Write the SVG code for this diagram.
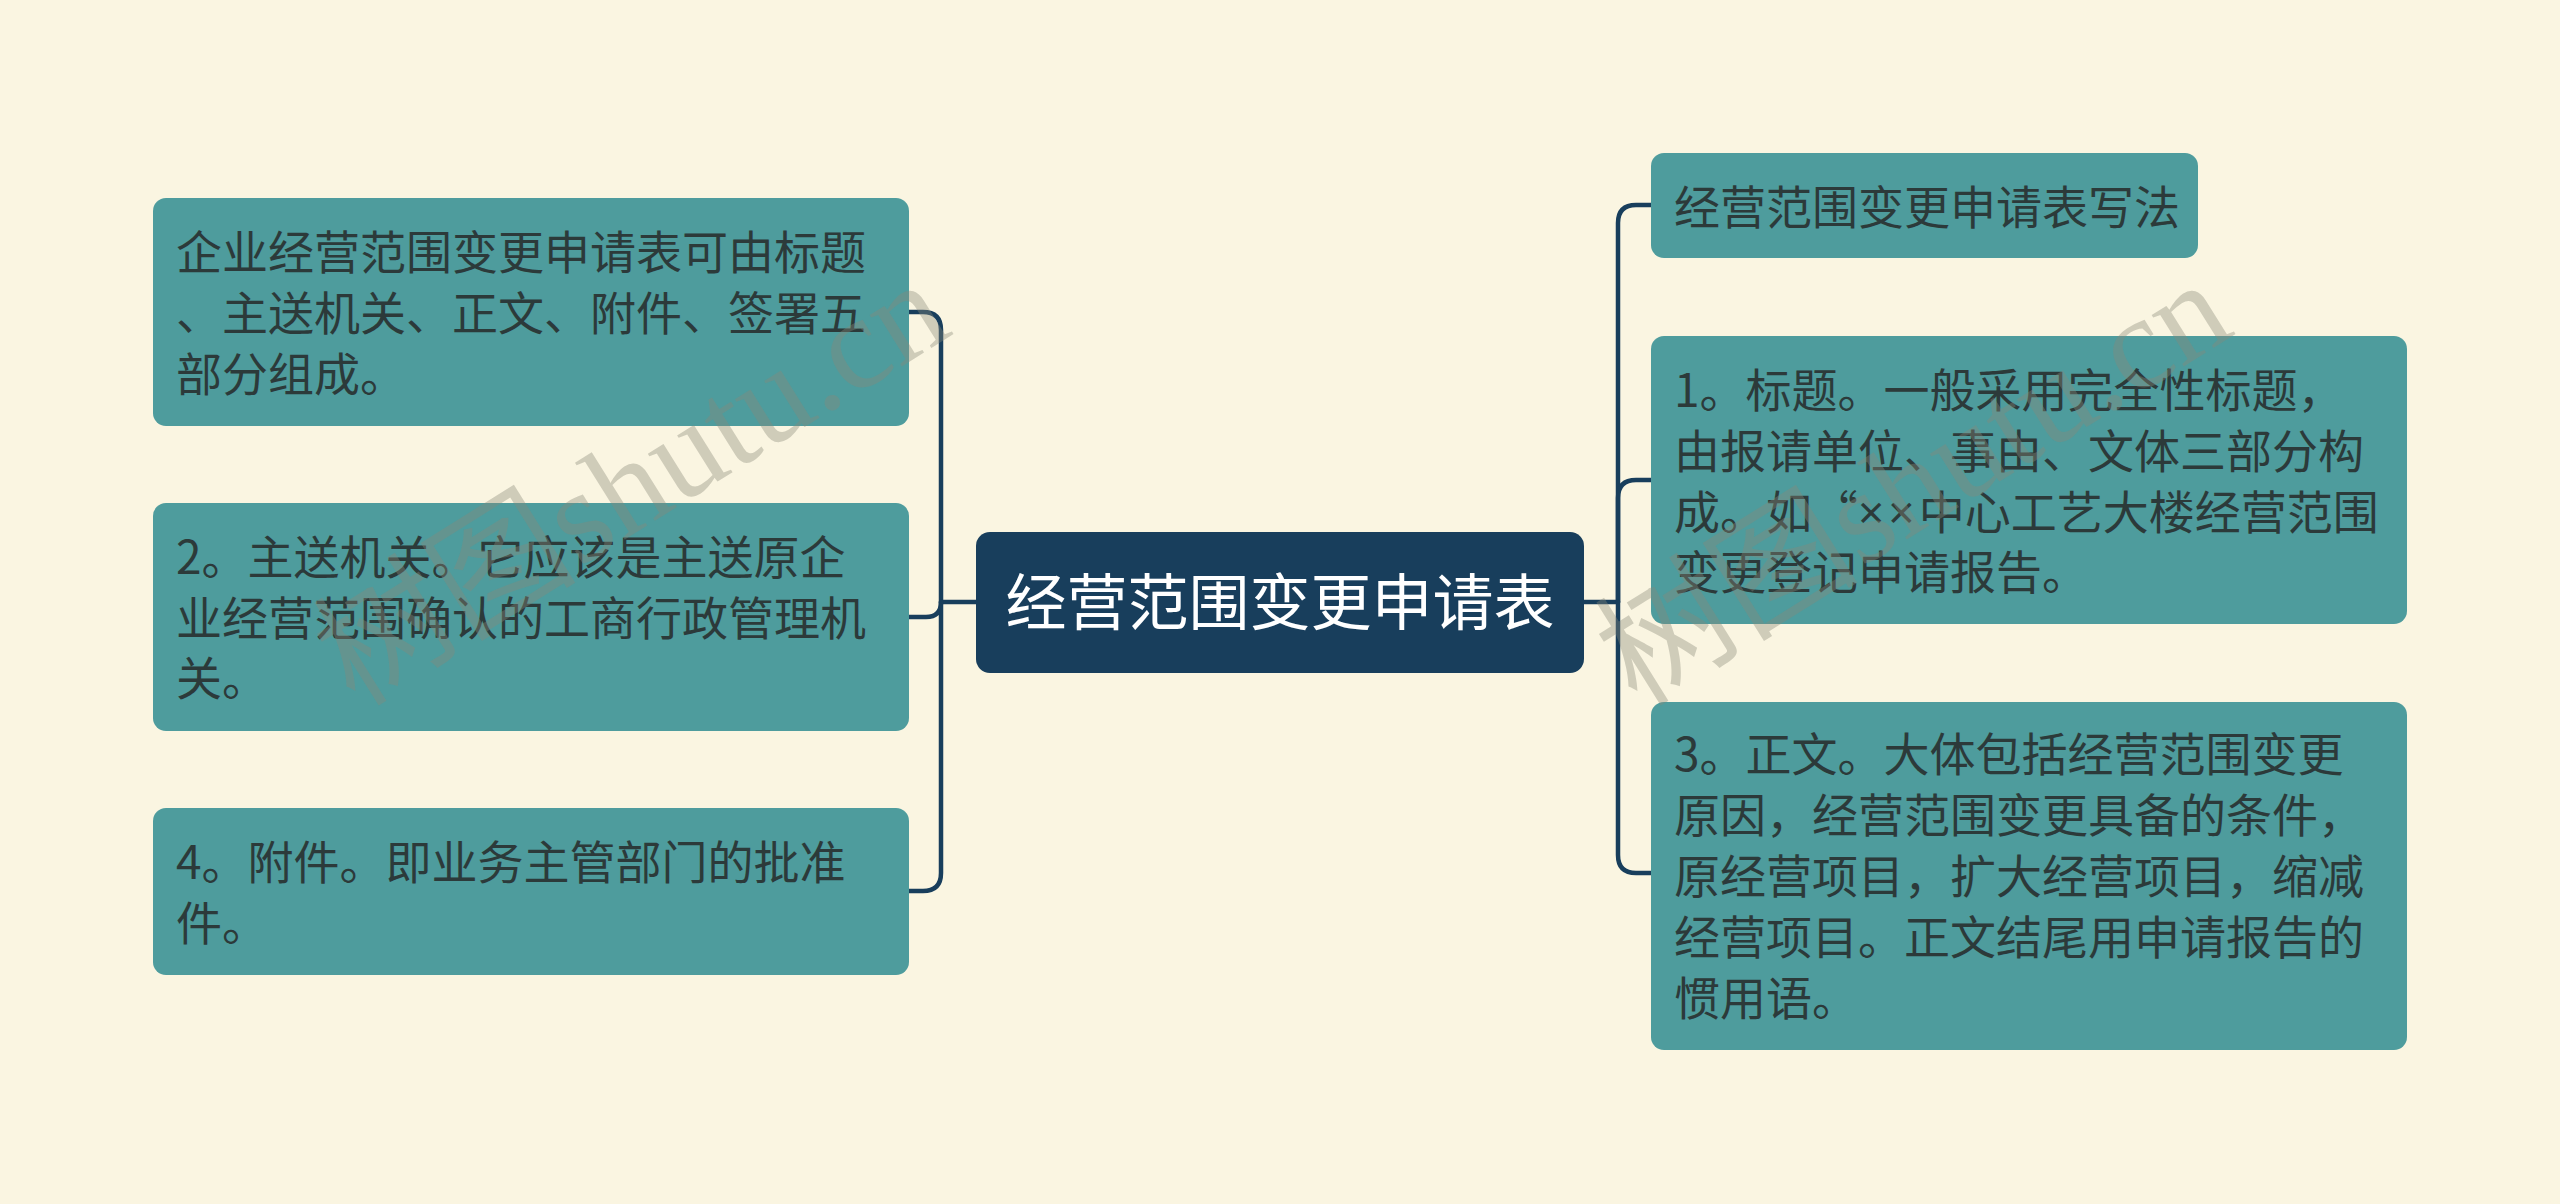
<svg xmlns="http://www.w3.org/2000/svg" width="2560" height="1204" viewBox="0 0 2560 1204">
<style>
.bg{fill:#FAF5E1}
.node rect{fill:#4E9C9D}
.node text{font-family:"Noto Sans CJK SC","Noto Sans",sans-serif;font-size:46px;fill:#2C3A3A}
.node tspan.lat{font-family:"Noto Sans",sans-serif;letter-spacing:4px}
#center rect{fill:#183E5C}
#center text{font-family:"Noto Sans CJK SC","Noto Sans",sans-serif;font-size:61px;fill:#FFFFFF}
.conn path{fill:none;stroke:#183E5C;stroke-width:4.5;stroke-linecap:round}
.wm{font-family:"Liberation Serif","Noto Sans CJK SC",serif;font-size:132px;fill:#8A8A7A;fill-opacity:0.38}
</style>
<rect class="bg" x="0" y="0" width="2560" height="1204"/>
<g class="conn" id="connectors">
<path d="M976 602 H941"/>
<path d="M941 602 V330 Q941 312 923 312 H908"/>
<path d="M941 602 Q941 617 926 617 H908"/>
<path d="M941 602 V873 Q941 891 923 891 H908"/>
<path d="M1584 602 H1618"/>
<path d="M1618 602 V223 Q1618 205 1636 205 H1651"/>
<path d="M1618 602 V498 Q1618 480 1636 480 H1651"/>
<path d="M1618 602 V855 Q1618 873 1636 873 H1651"/>
</g>
<g id="center">
<rect x="976" y="532" width="608" height="141" rx="14"/>
<text x="1280" y="625" text-anchor="middle">经营范围变更申请表</text>
</g>
<g class="node" id="left1">
<rect x="153" y="198" width="756" height="228" rx="13"/>
<text x="176" y="269">企业经营范围变更申请表可由标题</text>
<text x="176" y="330">、主送机关、正文、附件、签署五</text>
<text x="176" y="391">部分组成。</text>
</g>
<g class="node" id="left2">
<rect x="153" y="503" width="756" height="228" rx="13"/>
<text x="176" y="574">2。主送机关。它应该是主送原企</text>
<text x="176" y="635">业经营范围确认的工商行政管理机</text>
<text x="176" y="695">关。</text>
</g>
<g class="node" id="left3">
<rect x="153" y="808" width="756" height="167" rx="13"/>
<text x="176" y="879">4。附件。即业务主管部门的批准</text>
<text x="176" y="940">件。</text>
</g>
<g class="node" id="right1">
<rect x="1651" y="153" width="547" height="105" rx="13"/>
<text x="1674" y="224">经营范围变更申请表写法</text>
</g>
<g class="node" id="right2">
<rect x="1651" y="336" width="756" height="288" rx="13"/>
<text x="1674" y="407">1。标题。一般采用完全性标题，</text>
<text x="1674" y="468">由报请单位、事由、文体三部分构</text>
<text x="1674" y="529">成。如“<tspan class="lat">××</tspan>中心工艺大楼经营范围</text>
<text x="1674" y="589">变更登记申请报告。</text>
</g>
<g class="node" id="right3">
<rect x="1651" y="702" width="756" height="348" rx="13"/>
<text x="1674" y="771">3。正文。大体包括经营范围变更</text>
<text x="1674" y="832">原因，经营范围变更具备的条件，</text>
<text x="1674" y="893">原经营项目，扩大经营项目，缩减</text>
<text x="1674" y="954">经营项目。正文结尾用申请报告的</text>
<text x="1674" y="1015">惯用语。</text>
</g>
<text class="wm" x="355" y="708" transform="rotate(-32 355 708)">树图shutu.cn</text>
<text class="wm" x="1637" y="708" transform="rotate(-32 1637 708)">树图shutu.cn</text>
</svg>
